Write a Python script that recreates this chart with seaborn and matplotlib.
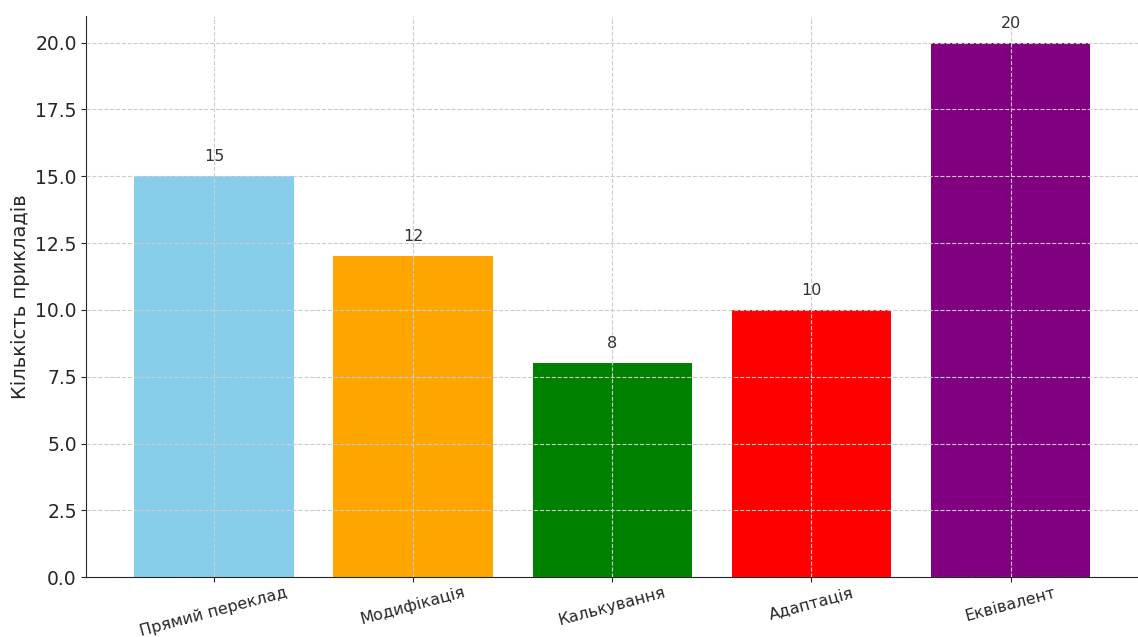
import matplotlib
matplotlib.use("Agg")
import matplotlib.pyplot as plt
import seaborn as sns
import pandas as pd

categories = ["Прямий переклад", "Модифікація", "Калькування", "Адаптація", "Еквівалент"]
values = [15, 12, 8, 10, 20]
colors = ["skyblue", "orange", "green", "red", "purple"]

sns.set_style("ticks")
plt.rcParams['font.family'] = ['DejaVu Sans']

df = pd.DataFrame({"cat": categories, "val": values})
fig, ax = plt.subplots(figsize=(11.38, 6.37), dpi=100)
sns.barplot(data=df, x="cat", y="val", hue="cat", palette=colors, width=0.8,
            saturation=1, legend=False, linewidth=0, ax=ax)
ax.set_axisbelow(False)
ax.grid(True, linestyle="--", color="#cccccc", linewidth=0.8)
for i, v in enumerate(values):
    ax.text(i, v + 0.45, str(v), ha="center", va="bottom", fontsize=11.5, color="#333333")
ax.set_xlabel("")
ax.set_ylabel("Кількість прикладів", fontsize=14)
ax.tick_params(axis="y", labelsize=13.5)
ax.tick_params(axis="x", labelsize=11.5, pad=2)
plt.setp(ax.get_xticklabels(), rotation=15)
ax.set_xlim(-0.64, 4.64)
ax.set_ylim(0, 21)
sns.despine(ax=ax)
fig.subplots_adjust(left=0.076, right=1.0, top=0.975, bottom=0.094)
fig.savefig("out.png", dpi=100)
